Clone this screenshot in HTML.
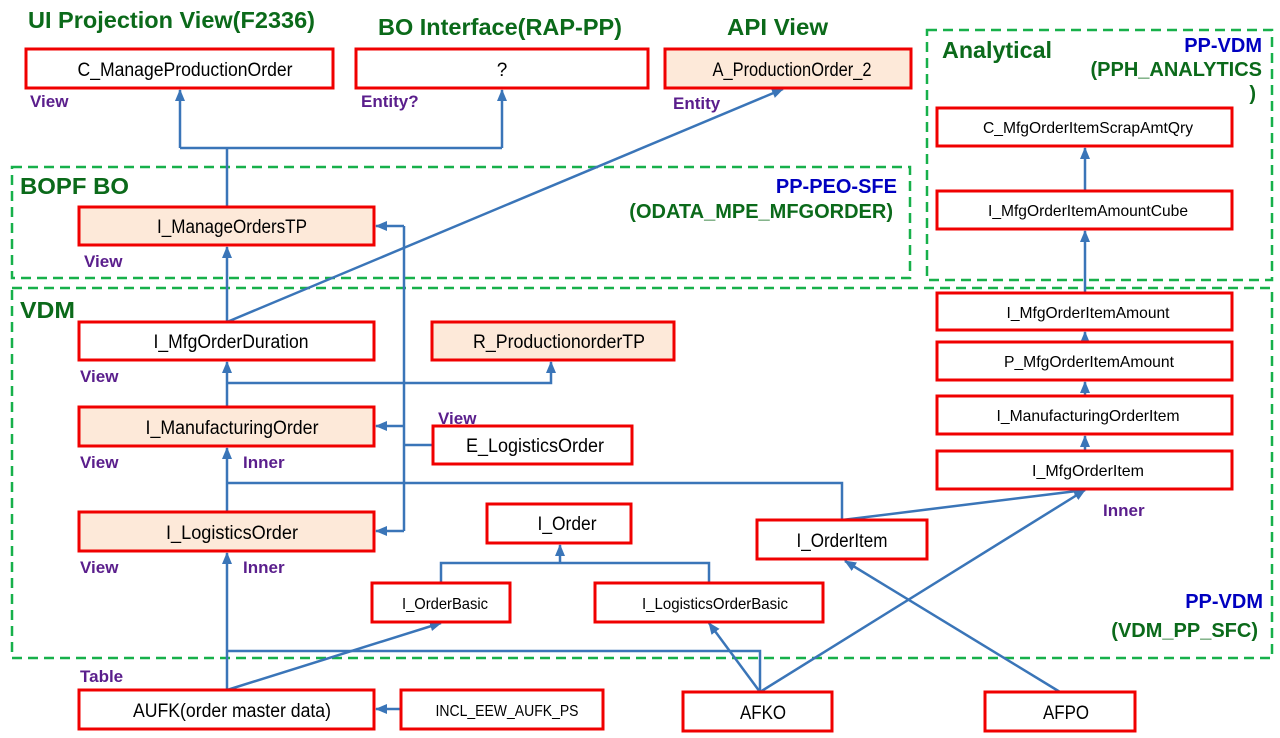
<!DOCTYPE html>
<html><head><meta charset="utf-8"><style>
html,body{margin:0;padding:0;background:#fff;}
svg{display:block;font-family:"Liberation Sans",Arial,sans-serif;}
.b{fill:#fff;stroke:#f00000;stroke-width:3;}
.p{fill:#fde9d9;stroke:#f00000;stroke-width:3;}
.t{font-size:19px;fill:#000;text-anchor:middle;}
.s{font-size:16px;fill:#000;text-anchor:middle;}
.g{font-size:23px;font-weight:bold;fill:#0b6a1a;}
.bl{font-size:20px;font-weight:bold;fill:#0000c0;}
.gr{font-size:20px;font-weight:bold;fill:#0b6a1a;}
.v{font-size:17px;font-weight:bold;fill:#5a1e8c;}
.d{fill:none;stroke:#17b04a;stroke-width:2.5;stroke-dasharray:10,6;}
.c{fill:none;stroke:#3a75b8;stroke-width:2.5;}
</style></head><body>
<svg width="1280" height="738" viewBox="0 0 1280 738">
<defs>
<marker id="m" markerWidth="12" markerHeight="12" refX="11" refY="6" orient="auto" markerUnits="userSpaceOnUse"><path d="M0,1 L12,6 L0,11 z" fill="#3a75b8"/></marker></defs>

<rect class="d" x="12" y="167" width="898" height="111"/>
<rect class="d" x="12" y="288" width="1260" height="370"/>
<rect class="d" x="927" y="30" width="345" height="250"/>

<text class="g" x="28" y="28" textLength="287" lengthAdjust="spacingAndGlyphs">UI Projection View(F2336)</text>
<text class="g" x="378" y="35" textLength="244" lengthAdjust="spacingAndGlyphs">BO Interface(RAP-PP)</text>
<text class="g" x="727" y="35" textLength="101" lengthAdjust="spacingAndGlyphs">API View</text>
<text class="g" x="20" y="194" textLength="109" lengthAdjust="spacingAndGlyphs">BOPF BO</text>
<text class="g" x="20" y="318" textLength="55" lengthAdjust="spacingAndGlyphs">VDM</text>
<text class="g" x="942" y="58" textLength="110" lengthAdjust="spacingAndGlyphs">Analytical</text>
<text class="bl" x="897" y="193" text-anchor="end">PP-PEO-SFE</text>
<text class="gr" x="893" y="218" text-anchor="end">(ODATA_MPE_MFGORDER)</text>
<text class="bl" x="1262" y="52" text-anchor="end">PP-VDM</text>
<text class="gr" x="1262" y="76" text-anchor="end">(PPH_ANALYTICS</text>
<text class="gr" x="1256" y="100" text-anchor="end">)</text>
<text class="bl" x="1263" y="608" text-anchor="end">PP-VDM</text>
<text class="gr" x="1258" y="637" text-anchor="end">(VDM_PP_SFC)</text>

<path class="c" d="M227,207 V148 M180,148 H502" />
<path class="c" d="M180,148 V90" marker-end="url(#m)"/>
<path class="c" d="M502,148 V90" marker-end="url(#m)"/>
<path class="c" d="M227,322 V247" marker-end="url(#m)"/>
<path class="c" d="M227,322 L783,89" marker-end="url(#m)"/>
<path class="c" d="M404,226 V531"/>
<path class="c" d="M404,226 H376" marker-end="url(#m)"/>
<path class="c" d="M404,426 H376" marker-end="url(#m)"/>
<path class="c" d="M404,531 H376" marker-end="url(#m)"/>
<path class="c" d="M404,445 H433"/>
<path class="c" d="M227,407 V362" marker-end="url(#m)"/>
<path class="c" d="M227,383 H551 V362" marker-end="url(#m)"/>
<path class="c" d="M227,512 V448" marker-end="url(#m)"/>
<path class="c" d="M227,483 H842 V520"/>
<path class="c" d="M842,520 L1085,490" marker-end="url(#m)"/>
<path class="c" d="M227,690 V553" marker-end="url(#m)"/>
<path class="c" d="M227,651 H760 V692"/>
<path class="c" d="M227,690 L441,623" marker-end="url(#m)"/>
<path class="c" d="M760,692 L709,623" marker-end="url(#m)"/>
<path class="c" d="M760,692 L1085,490" marker-end="url(#m)"/>
<path class="c" d="M1060,692 L845,561" marker-end="url(#m)"/>
<path class="c" d="M441,583 V563 H709 V583"/>
<path class="c" d="M560,563 V545" marker-end="url(#m)"/>
<path class="c" d="M401,709 H376" marker-end="url(#m)"/>
<path class="c" d="M1085,451 V436" marker-end="url(#m)"/>
<path class="c" d="M1085,396 V382" marker-end="url(#m)"/>
<path class="c" d="M1085,342 V332" marker-end="url(#m)"/>
<path class="c" d="M1085,293 V231" marker-end="url(#m)"/>
<path class="c" d="M1085,191 V148" marker-end="url(#m)"/>

<rect class="b" x="26" y="49" width="307" height="39"/><text class="t" x="185" y="76" textLength="215" lengthAdjust="spacingAndGlyphs">C_ManageProductionOrder</text>
<rect class="b" x="356" y="49" width="292" height="39"/><text class="t" x="502" y="76">?</text>
<rect class="p" x="665" y="49" width="246" height="39"/><text class="t" x="792" y="76" textLength="159" lengthAdjust="spacingAndGlyphs">A_ProductionOrder_2</text>
<rect class="p" x="79" y="207" width="295" height="38"/><text class="t" x="232" y="233" textLength="150" lengthAdjust="spacingAndGlyphs">I_ManageOrdersTP</text>
<rect class="b" x="79" y="322" width="295" height="38"/><text class="t" x="231" y="348" textLength="155" lengthAdjust="spacingAndGlyphs">I_MfgOrderDuration</text>
<rect class="p" x="432" y="322" width="242" height="38"/><text class="t" x="559" y="348" textLength="172" lengthAdjust="spacingAndGlyphs">R_ProductionorderTP</text>
<rect class="p" x="79" y="407" width="295" height="39"/><text class="t" x="232" y="434" textLength="173" lengthAdjust="spacingAndGlyphs">I_ManufacturingOrder</text>
<rect class="b" x="433" y="426" width="199" height="38"/><text class="t" x="535" y="452" textLength="138" lengthAdjust="spacingAndGlyphs">E_LogisticsOrder</text>
<rect class="p" x="79" y="512" width="295" height="39"/><text class="t" x="232" y="539" textLength="132" lengthAdjust="spacingAndGlyphs">I_LogisticsOrder</text>
<rect class="b" x="487" y="504" width="144" height="39"/><text class="t" x="567" y="530" textLength="59" lengthAdjust="spacingAndGlyphs">I_Order</text>
<rect class="b" x="372" y="583" width="138" height="39"/><text class="s" x="445" y="609" textLength="86" lengthAdjust="spacingAndGlyphs">I_OrderBasic</text>
<rect class="b" x="595" y="583" width="228" height="39"/><text class="s" x="715" y="609" textLength="146" lengthAdjust="spacingAndGlyphs">I_LogisticsOrderBasic</text>
<rect class="b" x="757" y="520" width="170" height="39"/><text class="t" x="842" y="547" textLength="91" lengthAdjust="spacingAndGlyphs">I_OrderItem</text>
<rect class="b" x="79" y="690" width="295" height="39"/><text class="t" x="232" y="717" textLength="198" lengthAdjust="spacingAndGlyphs">AUFK(order master data)</text>
<rect class="b" x="401" y="690" width="202" height="39"/><text class="s" x="507" y="716" textLength="143" lengthAdjust="spacingAndGlyphs">INCL_EEW_AUFK_PS</text>
<rect class="b" x="683" y="692" width="149" height="39"/><text class="t" x="763" y="719" textLength="46" lengthAdjust="spacingAndGlyphs">AFKO</text>
<rect class="b" x="985" y="692" width="150" height="39"/><text class="t" x="1066" y="719" textLength="46" lengthAdjust="spacingAndGlyphs">AFPO</text>

<rect class="b" x="937" y="108" width="295" height="38"/><text class="s" x="1088" y="133" textLength="210" lengthAdjust="spacingAndGlyphs">C_MfgOrderItemScrapAmtQry</text>
<rect class="b" x="937" y="191" width="295" height="38"/><text class="s" x="1088" y="216" textLength="200" lengthAdjust="spacingAndGlyphs">I_MfgOrderItemAmountCube</text>
<rect class="b" x="937" y="293" width="295" height="37"/><text class="s" x="1088" y="318" textLength="163" lengthAdjust="spacingAndGlyphs">I_MfgOrderItemAmount</text>
<rect class="b" x="937" y="342" width="295" height="38"/><text class="s" x="1089" y="367" textLength="170" lengthAdjust="spacingAndGlyphs">P_MfgOrderItemAmount</text>
<rect class="b" x="937" y="396" width="295" height="38"/><text class="s" x="1088" y="421" textLength="183" lengthAdjust="spacingAndGlyphs">I_ManufacturingOrderItem</text>
<rect class="b" x="937" y="451" width="295" height="38"/><text class="s" x="1088" y="476" textLength="112" lengthAdjust="spacingAndGlyphs">I_MfgOrderItem</text>

<text class="v" x="30" y="107">View</text>
<text class="v" x="361" y="107">Entity?</text>
<text class="v" x="673" y="109">Entity</text>
<text class="v" x="84" y="267">View</text>
<text class="v" x="80" y="382">View</text>
<text class="v" x="438" y="424">View</text>
<text class="v" x="80" y="468">View</text>
<text class="v" x="243" y="468">Inner</text>
<text class="v" x="80" y="573">View</text>
<text class="v" x="243" y="573">Inner</text>
<text class="v" x="80" y="682">Table</text>
<text class="v" x="1103" y="516">Inner</text>
</svg>
</body></html>
